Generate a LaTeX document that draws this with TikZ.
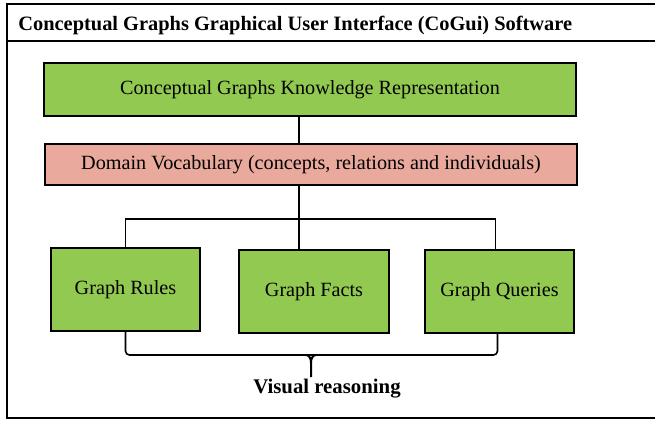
\documentclass[tikz,border=0pt]{standalone}
\usepackage{fontspec}
\setmainfont{Liberation Serif}
\usepackage{xcolor}
\usepackage{tikz}
\usetikzlibrary{positioning, calc}
\definecolor{boxgreen}{HTML}{92C951}
\definecolor{boxpink}{HTML}{E9A99C}
\tikzstyle{greenbox} = [draw=black, line width=0.9pt, fill=boxgreen, text centered, font=\fontsize{10.1}{12}\selectfont]
\tikzstyle{pinkbox} = [draw=black, line width=0.9pt, fill=boxpink, text centered, font=\fontsize{10.1}{12}\selectfont]
\tikzstyle{link} = [line width=0.7pt]
\tikzstyle{bracepart} = [line width=0.8pt, rounded corners=2pt]

\begin{document}
\begin{tikzpicture}[x=0.5pt, y=-0.5pt]
        \useasboundingbox (0,0) rectangle (655,420);
        % Outer frame with header
        \draw[line width=1pt] (7,4) rectangle (680,418);
        \draw[line width=1pt] (7,41) -- (680,41);
        \node[anchor=west, inner sep=0pt, font=\fontsize{10.2}{12}\selectfont\bfseries] (title_label) at (18,25.5) {Conceptual Graphs Graphical User Interface (CoGui) Software};

        % Top Layer: Knowledge representation and vocabulary
        \node (kr) [greenbox, minimum width=266pt, minimum height=26.5pt] at (310,89.5) {Conceptual Graphs Knowledge Representation};
        \node (vocab) [pinkbox, minimum width=266pt, minimum height=20.5pt] at (311,164.5) {Domain Vocabulary (concepts, relations and individuals)};

        % Bottom Layer: graph kinds
        \node (rules) [greenbox, minimum width=74.5pt, minimum height=41.5pt] at (125.5,289.5) {Graph Rules};
        \node (facts) [greenbox, minimum width=75pt, minimum height=41.5pt] at (314,291.5) {Graph Facts};
        \node (queries) [greenbox, minimum width=74.5pt, minimum height=41.5pt] at (499.5,291.5) {Graph Queries};

        % Lines
        \coordinate (bus) at (299,219);
        \draw[link] (kr.south -| bus) -- (vocab.north -| bus);
        \draw[link] (vocab.south -| bus) -- (facts.north -| bus);
        \draw[link] (rules.north) |- (bus) -| ([xshift=-2pt]queries.north);

        % Brace: Visual reasoning
        \coordinate (cusp) at (311,355);
        \coordinate (tip) at (311,377);
        \draw[bracepart] (rules.south) |- (cusp) -| ([xshift=-1pt]queries.south);
        \draw[line width=1pt] ([xshift=-2.5pt]cusp) to[out=0, in=90] ([yshift=-4pt]cusp) -- (tip);
        \draw[line width=1pt] ([xshift=2.5pt]cusp) to[out=180, in=90] ([yshift=-4pt]cusp);
        \node[font=\fontsize{10.4}{12}\selectfont\bfseries] (vr_label) at (327,389) {Visual reasoning};
    \end{tikzpicture}
\end{document}
